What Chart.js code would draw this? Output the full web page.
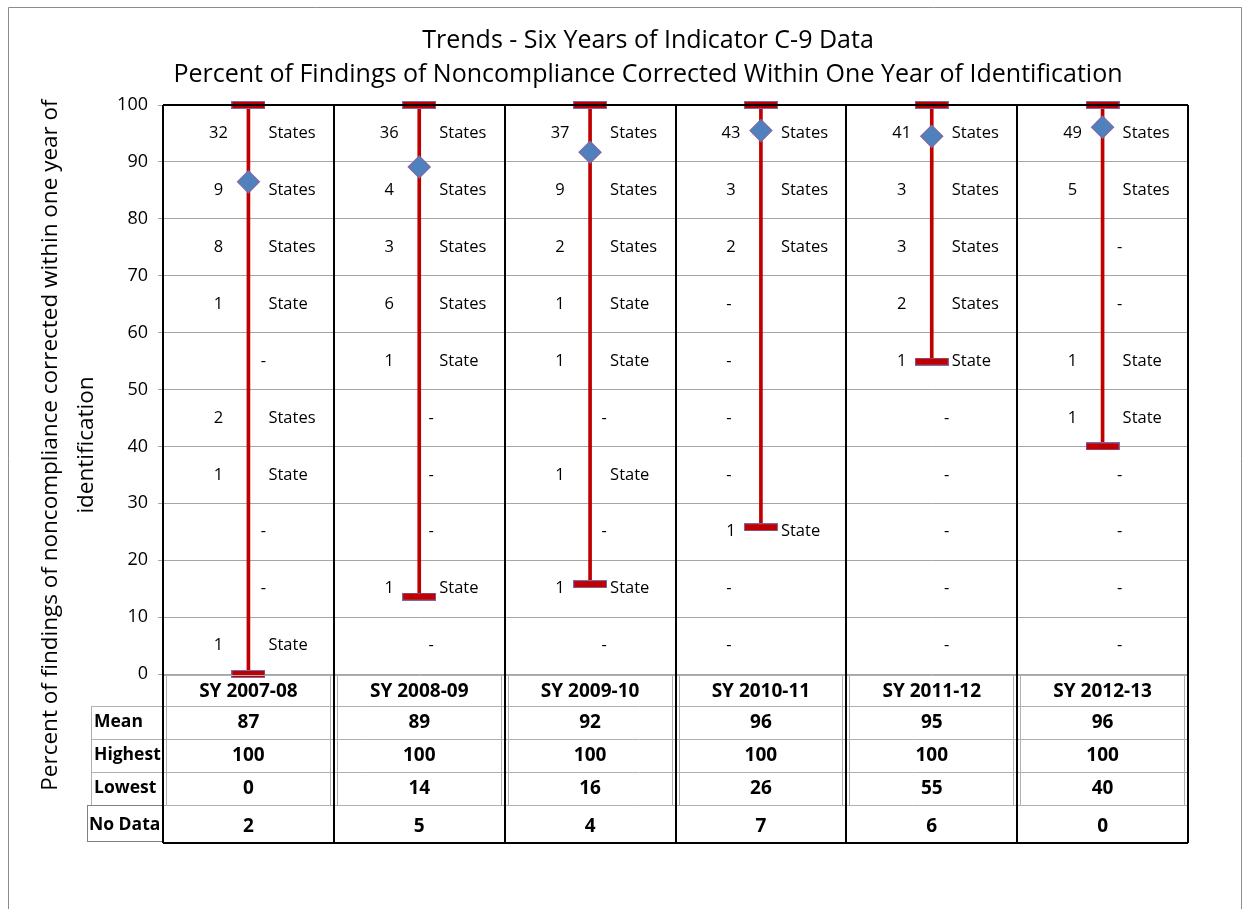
<!DOCTYPE html>
<html>
<head>
<meta charset="utf-8">
<title>Trends - Six Years of Indicator C-9 Data</title>
<script src="https://cdn.jsdelivr.net/npm/chart.js@4.4.1/dist/chart.umd.min.js"></script>
<style>
  html, body { margin: 0; padding: 0; background: #fff; }
  canvas { display: block; }
</style>
</head>
<body>
<canvas id="canvas" width="1250" height="909"></canvas>
<script>
var years = ['SY 2007-08', 'SY 2008-09', 'SY 2009-10', 'SY 2010-11', 'SY 2011-12', 'SY 2012-13'];
var meanScores = [86.5, 89.1, 91.7, 95.5, 94.5, 96.1];
var highestScores = [100, 100, 100, 100, 100, 100];
var lowestScores = [0, 13.6, 15.8, 25.8, 54.9, 40];
var noDataCounts = [2, 5, 4, 7, 6, 0];
var rowLabels = ['Mean', 'Highest', 'Lowest', 'No Data'];
var titleLines = ['Trends - Six Years of Indicator C-9 Data',
	'Percent of Findings of Noncompliance Corrected Within One Year of Identification'];
var yTitleLines = ['Percent of findings of noncompliance corrected within one year of', 'identification'];

// number of states in each 10-point band, top band (90-100) first; null = none ("-")
var stateCounts = [
	[32, 9, 8, 1, null, 2, 1, null, null, 1],
	[36, 4, 3, 6, 1, null, null, null, 1, null],
	[37, 9, 2, 1, 1, null, 1, null, 1, null],
	[43, 3, 2, null, null, null, null, 1, null, null],
	[41, 3, 3, 2, 1, null, null, null, null, null],
	[49, 5, null, null, 1, 1, null, null, null, null]
];

var FONT = '"Open Sans", "DejaVu Sans", sans-serif';
var dashOffset = [15, 12, 14, -32, 15, 17];

// little red bar with a purple edge used for the highest / lowest marks
function makeCap() {
	var c = document.createElement('canvas');
	c.width = 34;
	c.height = 8;
	var g = c.getContext('2d');
	g.fillStyle = '#7d6aa4';
	g.fillRect(0, 0, 34, 8);
	g.fillStyle = '#c00000';
	g.fillRect(1, 1, 32, 6);
	return c;
}
var capImg = makeCap();

var c9Plugin = {
	id: 'c9Table',
	beforeDatasetsDraw: function(chart) {
		var ctx = chart.ctx, xs = chart.scales.x, ys = chart.scales.y;
		ctx.save();
		ctx.font = '16.5px ' + FONT;
		ctx.fillStyle = '#000';
		ctx.textBaseline = 'middle';
		stateCounts.forEach(function(col, i) {
			var cx = xs.getPixelForValue(i);
			col.forEach(function(n, b) {
				var cy = ys.getPixelForValue(95 - 10 * b);
				if (n === null) {
					ctx.textAlign = 'center';
					ctx.fillText('-', cx + dashOffset[i], cy);
					return;
				}
				ctx.textAlign = 'center';
				ctx.fillText(String(n), cx - 30, cy);
				ctx.textAlign = 'left';
				ctx.fillText(n === 1 ? 'State' : 'States', cx + 20, cy);
			});
		});
		ctx.restore();
	},
	afterDraw: function(chart) {
		var ctx = chart.ctx, xs = chart.scales.x;
		var area = chart.chartArea;
		var L = area.left, R = area.right, T = area.top, B = area.bottom;
		ctx.save();

		// outer frame
		ctx.strokeStyle = '#8c8c8c';
		ctx.lineWidth = 1;
		ctx.beginPath();
		ctx.moveTo(8.5, 909);
		ctx.lineTo(8.5, 7.5);
		ctx.lineTo(1241.5, 7.5);
		ctx.lineTo(1241.5, 909);
		ctx.stroke();

		// titles
		ctx.fillStyle = '#000';
		ctx.textAlign = 'center';
		ctx.textBaseline = 'middle';
		ctx.font = '25px ' + FONT;
		ctx.fillText(titleLines[0], 648, 41);
		ctx.fillText(titleLines[1], 648, 75);
		ctx.save();
		ctx.font = '22.5px ' + FONT;
		ctx.translate(51, 445);
		ctx.rotate(-Math.PI / 2);
		ctx.fillText(yTitleLines[0], 0, 0);
		ctx.fillText(yTitleLines[1], 0, 36);
		ctx.restore();

		// table rows under the plot
		var rows = [B + 32, B + 65, B + 98, B + 131, B + 168];
		var bounds = [];
		for (var i = 0; i <= years.length; i++) {
			bounds.push(i === years.length ? R : Math.round(xs.getPixelForValue(i - 0.5)));
		}
		bounds[0] = L;

		ctx.strokeStyle = '#b0b0b0';
		ctx.lineWidth = 1;
		ctx.beginPath();
		for (var r = 0; r < 4; r++) {
			ctx.moveTo(r < 3 ? 91 : 87, rows[r] + 0.5);
			ctx.lineTo(R, rows[r] + 0.5);
		}
		ctx.moveTo(L, B + 1.5);
		ctx.lineTo(R, B + 1.5);
		for (var k = 0; k < bounds.length; k++) {
			if (k > 0) {
				ctx.moveTo(bounds[k] - 3.5, B + 1);
				ctx.lineTo(bounds[k] - 3.5, rows[3]);
			}
			if (k < bounds.length - 1) {
				ctx.moveTo(bounds[k] + 3.5, B + 1);
				ctx.lineTo(bounds[k] + 3.5, rows[3]);
			}
		}
		ctx.moveTo(91.5, rows[0]);
		ctx.lineTo(91.5, rows[3]);
		ctx.stroke();

		ctx.strokeStyle = '#808080';
		ctx.strokeRect(87.5, rows[3] + 0.5, L - 87, rows[4] - rows[3] - 1);

		// black column frames
		ctx.strokeStyle = '#000';
		ctx.lineWidth = 2;
		ctx.beginPath();
		bounds.forEach(function(bx) {
			ctx.moveTo(bx, T);
			ctx.lineTo(bx, rows[4] + 1);
		});
		ctx.moveTo(L, T);
		ctx.lineTo(R, T);
		ctx.moveTo(L, rows[4] + 1);
		ctx.lineTo(R, rows[4] + 1);
		ctx.stroke();

		// row labels and values
		ctx.textBaseline = 'middle';
		var values = [meanScores, highestScores, lowestScores, noDataCounts];
		var centers = [B + 48.5, B + 81.5, B + 114.5, B + 151];
		rowLabels.forEach(function(lbl, r) {
			ctx.font = 'bold 17.5px ' + FONT;
			ctx.textAlign = 'left';
			ctx.fillText(lbl, r < 3 ? 94 : 89, centers[r]);
			ctx.font = 'bold 19px ' + FONT;
			ctx.textAlign = 'center';
			values[r].forEach(function(v, i) {
				ctx.fillText(String(Math.round(v)), xs.getPixelForValue(i), centers[r] + (r === 3 ? 2 : 0));
			});
		});
		ctx.restore();
	}
};

window.onload = function() {
	var ctx = document.getElementById('canvas').getContext('2d');
	window.c9Chart = new Chart(ctx, {
		type: 'bar',
		data: {
			labels: years,
			datasets: [{
				type: 'line',
				label: 'Mean',
				data: meanScores,
				showLine: false,
				pointStyle: 'rectRot',
				pointRadius: 11,
				pointBackgroundColor: '#4f81bd',
				pointBorderColor: '#7d6aa4',
				pointBorderWidth: 1.2,
				clip: false,
				order: 0
			}, {
				type: 'line',
				label: 'Highest',
				data: highestScores,
				showLine: false,
				pointStyle: capImg,
				pointRadius: 5,
				clip: false,
				order: 1
			}, {
				type: 'line',
				label: 'Lowest',
				data: lowestScores,
				showLine: false,
				pointStyle: capImg,
				pointRadius: 5,
				clip: false,
				order: 1
			}, {
				label: 'Range',
				data: years.map(function(y, i) { return [lowestScores[i], highestScores[i]]; }),
				backgroundColor: '#c00000',
				barThickness: 3,
				borderWidth: 0,
				clip: false,
				order: 2
			}]
		},
		options: {
			responsive: false,
			animation: false,
			events: [],
			layout: {
				padding: { left: 10, right: 62, top: 105, bottom: 203 }
			},
			plugins: {
				legend: { display: false },
				title: { display: false },
				tooltip: { enabled: false }
			},
			scales: {
				x: {
					offset: true,
					grid: { display: false, drawTicks: false },
					border: { display: false },
					ticks: {
						color: '#000',
						padding: 6,
						font: { family: FONT, size: 19, weight: 'bold' }
					},
					afterFit: function(scale) { scale.height = 32; }
				},
				y: {
					min: 0,
					max: 100,
					grid: { color: '#a6a6a6', tickLength: 5 },
					border: { display: false },
					ticks: {
						stepSize: 10,
						color: '#000',
						padding: 10,
						font: { family: FONT, size: 18 }
					},
					afterFit: function(scale) { scale.width = 153; }
				}
			}
		},
		plugins: [c9Plugin]
	});
};
</script>
</body>
</html>
